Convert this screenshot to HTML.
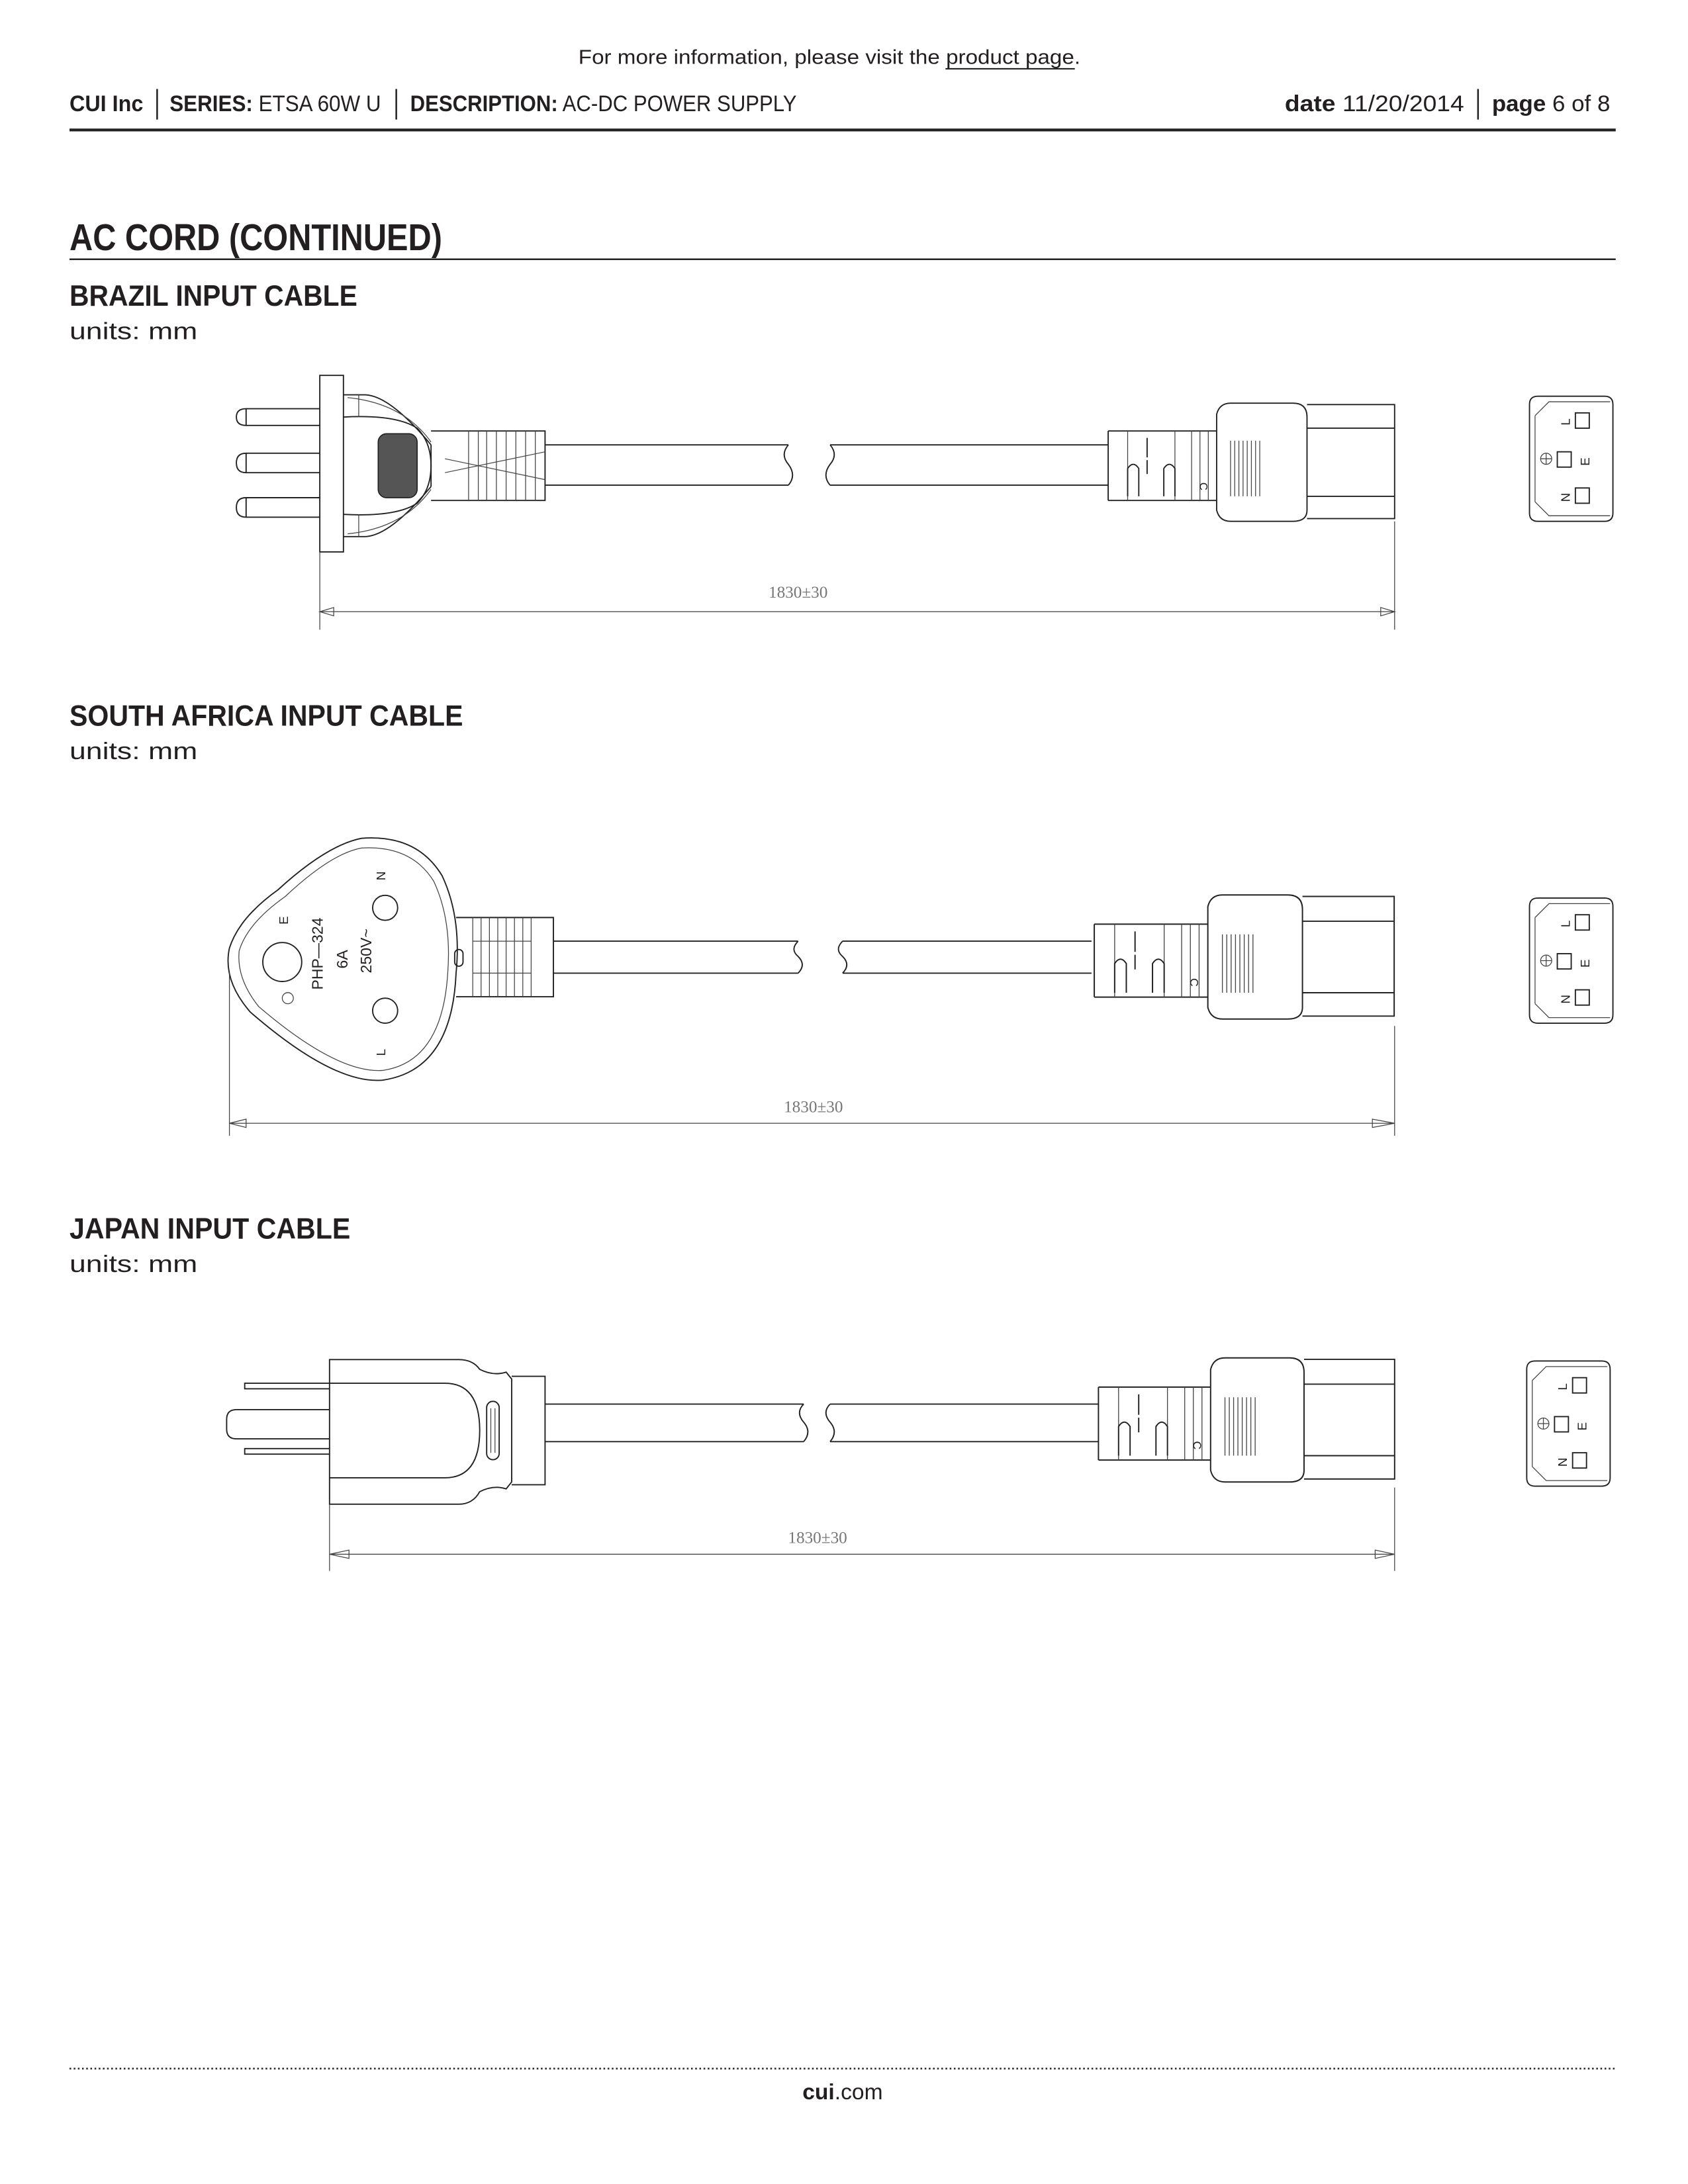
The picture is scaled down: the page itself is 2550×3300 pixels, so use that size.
<!DOCTYPE html>
<html><head><meta charset="utf-8"><style>
html,body{margin:0;padding:0;background:#fff}
svg{display:block}
.h{font-family:"Liberation Sans",sans-serif;font-weight:bold;fill:#231f20}
.n{font-family:"Liberation Sans",sans-serif;fill:#231f20}
.d{font-family:"Liberation Serif",serif;fill:#777;font-size:12px}
.s{fill:none;stroke:#222;stroke-width:0.9}
.t{fill:none;stroke:#444;stroke-width:0.6}
</style></head><body>
<svg width="2550" height="3300" viewBox="0 0 1214 1571" preserveAspectRatio="none" xmlns="http://www.w3.org/2000/svg">
<defs>
<g id="c13">
  <path class="s" d="M0,-25 L78,-25 M0,25 L78,25 M0,-25 L0,25"/>
  <path class="t" d="M14,-25 V25 M48,-25 V25 M60,-25 V25 M66,-25 V25 M72,-25 V25"/>
  <path class="s" d="M14,22 V2 q4,-6 8,0 V22 M40,22 V2 q4,-6 8,0 V22 M28,-20 V-6 M28,-4 V6"/>
  <path class="s" d="M78,-37 Q80,-45 88,-45 L133,-45 Q143,-45 143,-35 L143,32 Q143,40 133,40 L88,40 Q80,40 78,32 Z"/>
  <path class="t" d="M88,-18 V22 M94,-18 V22 M100,-18 V22 M106,-18 V22 M91,-18 V22 M97,-18 V22 M103,-18 V22 M109,-18 V22"/>
  <text x="66" y="12" class="n" font-size="8" transform="rotate(90 66 12)">C</text>
  <path class="s" d="M143,-44 H206 V38 H143 M143,-27 H206 M143,22 H206"/>
</g>
<g id="ev">
  <path class="s" d="M6,0 H54 Q60,0 60,6 V84 Q60,90 54,90 H6 Q0,90 0,84 V6 Q0,0 6,0 Z"/>
  <path class="t" d="M4,14 L14,4 H58 M4,76 L14,86 H58 M4,14 V76"/>
  <rect class="s" x="33" y="12" width="10" height="11"/>
  <rect class="s" x="20" y="40" width="10" height="11"/>
  <rect class="s" x="33" y="66" width="10" height="11"/>
  <text x="22" y="20" class="n" font-size="9" transform="rotate(-90 26 17)">L</text>
  <text x="22" y="75" class="n" font-size="9" transform="rotate(-90 26 72)">N</text>
  <text x="36" y="49" class="n" font-size="9" transform="rotate(-90 40 46)">E</text>
  <circle class="t" cx="12" cy="45" r="4"/><path class="t" d="M8,45 H16 M12,41 V49"/>
</g>
</defs>

<text x="416" y="46" class="n" font-size="14.5" textLength="361" lengthAdjust="spacingAndGlyphs">For more information, please visit the product page.</text>
<line x1="680" y1="49.5" x2="773" y2="49.5" stroke="#222" stroke-width="1"/>

<text x="50" y="80" font-size="16.5" class="h" textLength="53" lengthAdjust="spacingAndGlyphs">CUI Inc</text>
<line x1="113" y1="64" x2="113" y2="86" stroke="#222" stroke-width="1.2"/>
<text x="122" y="80" font-size="16.5" textLength="152" lengthAdjust="spacingAndGlyphs"><tspan class="h">SERIES:</tspan><tspan class="n"> ETSA 60W U</tspan></text>
<line x1="285" y1="64" x2="285" y2="86" stroke="#222" stroke-width="1.2"/>
<text x="295" y="80" font-size="16.5" textLength="278" lengthAdjust="spacingAndGlyphs"><tspan class="h">DESCRIPTION:</tspan><tspan class="n"> AC-DC POWER SUPPLY</tspan></text>
<text x="924" y="80" font-size="16.5" textLength="129" lengthAdjust="spacingAndGlyphs"><tspan class="h">date</tspan><tspan class="n"> 11/20/2014</tspan></text>
<line x1="1063" y1="64" x2="1063" y2="86" stroke="#222" stroke-width="1.2"/>
<text x="1073" y="80" font-size="16.5" textLength="85" lengthAdjust="spacingAndGlyphs"><tspan class="h">page</tspan><tspan class="n"> 6 of 8</tspan></text>
<line x1="50" y1="93.5" x2="1162" y2="93.5" stroke="#222" stroke-width="2"/>

<text x="50" y="180" class="h" font-size="27" textLength="268" lengthAdjust="spacingAndGlyphs">AC CORD (CONTINUED)</text>
<line x1="50" y1="186.5" x2="1162" y2="186.5" stroke="#222" stroke-width="1.2"/>

<!-- BRAZIL -->
<text x="50" y="220" class="h" font-size="21" textLength="207" lengthAdjust="spacingAndGlyphs">BRAZIL INPUT CABLE</text>
<text x="50" y="244" class="n" font-size="17" textLength="92" lengthAdjust="spacingAndGlyphs">units: mm</text>
<g>
  <path class="s" d="M230,270 H247 V397 H230 Z"/>
  <path class="s" d="M230,294 H177 Q170,294 170,300 Q170,306 177,306 H230 M177,294 V306"/>
  <path class="s" d="M230,326 H177 Q170,326 170,333 Q170,340 177,340 H230 M177,326 V340"/>
  <path class="s" d="M230,358 H177 Q170,358 170,365 Q170,372 177,372 H230 M177,358 V372"/>
  <path class="s" d="M247,284 H262 Q280,284 310,320 M247,386 H262 Q280,386 310,350"/>
  <path class="s" d="M247,300 Q285,298 300,308 Q310,318 310,335 Q310,352 300,362 Q285,372 247,370"/>
  <path class="t" d="M258,284 V300 M258,370 V386 M250,286 Q290,290 310,318 M250,384 Q290,380 310,352"/>
  <rect x="272" y="312" width="28" height="46" rx="6" fill="#555" stroke="#222" stroke-width="0.8"/>
  <path class="s" d="M310,310 H392 V360 H310 M310,320 V350"/>
  <path class="t" d="M337,310 V360 M350,310 V360 M364,310 V360 M378,310 V360 M344,310 V360 M357,310 V360 M371,310 V360 M385,310 V360 M320,330 L392,345 M320,340 L392,325"/>
</g>
<path class="s" d="M392,320 H567 M392,349 H567 M567,320 q-6,7 0,14 q6,8 0,15 M597,320 q6,7 0,14 q-6,8 0,15 M597,320 H797 M597,349 H797"/>
<use href="#c13" transform="translate(797,335)"/>
<use href="#ev" transform="translate(1100,285)"/>
<path class="t" d="M230,397 V453 M1003,375 V453 M230,440 H1003 M230,440 l10,-3 v6 z M1003,440 l-10,-3 v6 z"/>
<text x="574" y="430" class="d" text-anchor="middle">1830±30</text>

<!-- SOUTH AFRICA -->
<text x="50" y="522" class="h" font-size="21" textLength="283" lengthAdjust="spacingAndGlyphs">SOUTH AFRICA INPUT CABLE</text>
<text x="50" y="546" class="n" font-size="17" textLength="92" lengthAdjust="spacingAndGlyphs">units: mm</text>
<g>
  <path class="s" d="M260,603 Q300,600 318,630 Q332,660 328,700 Q325,770 275,777 Q240,780 180,728 Q160,705 165,682 Q172,660 200,640 Q235,608 260,603 Z"/>
  <path class="t" d="M260,610 Q296,608 312,634 Q325,662 322,700 Q318,764 275,770 Q242,772 186,724 Q170,704 172,684 Q178,664 205,645 Q238,614 260,610 Z"/>
  <circle class="s" cx="203" cy="692" r="14"/>
  <circle class="s" cx="277" cy="653" r="9"/>
  <circle class="s" cx="277" cy="727" r="9"/>
  <text x="277" y="630" class="n" font-size="9" text-anchor="middle" transform="rotate(-90 277 630)">N</text>
  <text x="277" y="757" class="n" font-size="9" text-anchor="middle" transform="rotate(-90 277 757)">L</text>
  <text x="207" y="662" class="n" font-size="9" text-anchor="middle" transform="rotate(-90 207 662)">E</text>
  <text x="232" y="686" class="n" font-size="11" text-anchor="middle" transform="rotate(-90 232 686)">PHP—324</text>
  <text x="250" y="690" class="n" font-size="11" text-anchor="middle" transform="rotate(-90 250 690)">6A</text>
  <text x="267" y="684" class="n" font-size="11" text-anchor="middle" transform="rotate(-90 267 684)">250V~</text>
  <circle class="t" cx="207" cy="718" r="4"/>
  <path class="s" d="M328,660 H398 V717 H328"/>
  <path class="t" d="M340,660 V717 M346,660 V717 M352,660 V717 M358,660 V717 M364,660 V717 M370,660 V717 M376,660 V717 M382,660 V717 M340,677 H382 M340,700 H382"/>
  <rect class="s" x="327" y="683" width="6" height="12" rx="3"/>
</g>
<path class="s" d="M398,677 H574 M398,700 H574 M574,677 q-6,6 0,11 q6,6 0,12 M606,677 q-6,6 0,11 q6,6 0,12 M606,677 H785 M606,700 H785"/>
<use href="#c13" transform="translate(787,691) scale(1.047,1.05)"/>
<use href="#ev" transform="translate(1100,646)"/>
<path class="t" d="M165,700 V817 M1003,738 V817 M165,808 H1003 M165,808 l12,-3 v6 z M1003,808 l-16,-3 v6 z"/>
<text x="585" y="800" class="d" text-anchor="middle">1830±30</text>

<!-- JAPAN -->
<text x="50" y="891" class="h" font-size="21" textLength="202" lengthAdjust="spacingAndGlyphs">JAPAN INPUT CABLE</text>
<text x="50" y="915" class="n" font-size="17" textLength="92" lengthAdjust="spacingAndGlyphs">units: mm</text>
<g>
  <path class="s" d="M237,995 H176 V999 H237 M237,1042 H176 V1046 H237"/>
  <path class="s" d="M237,1014 H170 Q163,1014 163,1021 V1028 Q163,1035 170,1035 H237"/>
  <path class="s" d="M237,978 H330 Q340,978 345,985 Q355,990 364,987 L368,992 V1066 L364,1071 Q355,1068 345,1073 Q340,1082 330,1082 H237 Z"/>
  <path class="s" d="M237,995 H320 Q345,995 345,1029 Q345,1063 320,1063 H237"/>
  <rect class="s" x="350" y="1008" width="9" height="42" rx="4.5"/>
  <path class="t" d="M353,1013 V1045 M356,1013 V1045"/>
  <path class="s" d="M368,990 H392 V1068 H368"/>
</g>
<path class="s" d="M392,1010 H578 M392,1037 H578 M578,1010 q-6,6 0,13 q6,7 0,14 M597,1010 q-6,6 0,13 q6,7 0,14 M597,1010 H790 M597,1037 H790"/>
<use href="#c13" transform="translate(790,1024) scale(1.034,1.05)"/>
<use href="#ev" transform="translate(1098,979)"/>
<path class="t" d="M237,1082 V1130 M1003,1070 V1130 M237,1118 H1003 M237,1118 l14,-3 v6 z M1003,1118 l-14,-3 v6 z"/>
<text x="588" y="1110" class="d" text-anchor="middle">1830±30</text>

<line x1="50" y1="1488" x2="1162" y2="1488" stroke="#222" stroke-width="1.2" stroke-dasharray="1.2,1.8"/>
<text x="606" y="1510" text-anchor="middle" font-size="16" class="n"><tspan font-weight="bold">cui</tspan>.com</text>
</svg>
</body></html>
